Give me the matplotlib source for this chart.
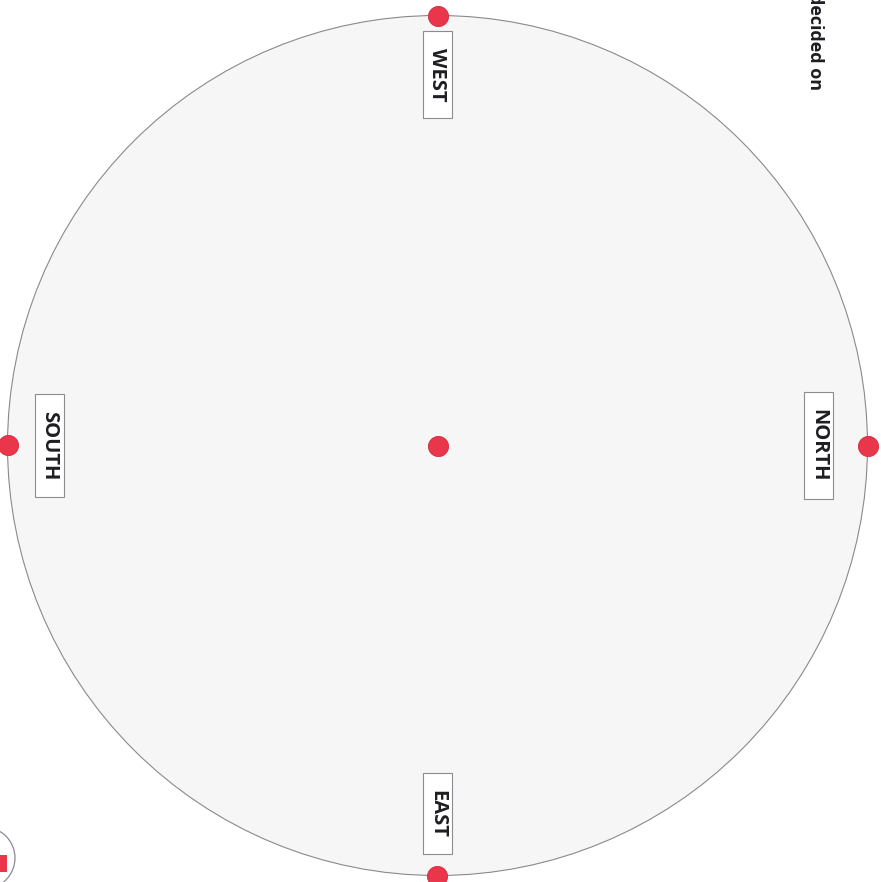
import numpy as np
import matplotlib.pyplot as plt
from matplotlib.patches import Circle, Rectangle

# compass labels and where they sit on the dial (degrees, 0 = right, counter-clockwise)
directions = ['WEST', 'NORTH', 'SOUTH', 'EAST']
angles = [90, 0, 180, 270]
corner_text = 'decided on'

RED = '#e9364b'
plt.rcParams['font.family'] = ['Open Sans', 'DejaVu Sans']

fig = plt.figure(figsize=(8.81, 8.82), dpi=100)
ax = fig.add_axes([0, 0, 1, 1])
ax.set_xlim(0, 881)
ax.set_ylim(882, 0)
ax.set_aspect('equal')
ax.axis('off')

cx, cy, r = 437.5, 445.5, 430

ax.add_patch(Circle((cx, cy), r, facecolor='#f6f6f7', edgecolor='#8a8a8e', lw=0.8, zorder=1))

# red dots on the rim and the centre
ax.plot([cx], [cy], 'o', ms=14.5, color=RED, mec='#d22a40', mew=0.6, zorder=4)
for a in angles:
    t = np.deg2rad(a)
    ax.plot(cx + r*np.cos(t), cy - r*np.sin(t), 'o', ms=14.5, color=RED,
            mec='#d22a40', mew=0.6, zorder=4, clip_on=False)

# how far in from the rim each label box sits
inset = {90: 59, 0: 49, 180: 42, 270: 62}

fig.canvas.draw()
inv = ax.transData.inverted()
for lab, a in zip(directions, angles):
    t = np.deg2rad(a)
    off = r - inset[a]
    tx, ty = cx + off*np.cos(t), cy - off*np.sin(t)
    txt = ax.text(tx, ty, lab, rotation=270, ha='center', va='center',
                  fontsize=14.5, fontweight='bold', color='#1e1e22', zorder=5)
    bb = txt.get_window_extent(renderer=fig.canvas.get_renderer())
    (x0, y0), (x1, y1) = inv.transform([[bb.x0, bb.y0], [bb.x1, bb.y1]])
    w = 29
    h = abs(y1 - y0) + 34
    ax.add_patch(Rectangle((tx - w/2, ty - h/2), w, h, facecolor='white',
                           edgecolor='#8c8c90', lw=0.8, zorder=3))

# text running off the top edge, as in the scan
ax.text(815, 90, corner_text, rotation=270, rotation_mode='anchor', ha='right', va='center',
        fontsize=13, fontweight='bold', color='#1e1e22')

# small stamp cut off in the lower left corner
ax.add_patch(Circle((-16, 858), 31, facecolor='white', edgecolor='#8a8a9a', lw=0.9, zorder=2))
ax.add_patch(Rectangle((-2, 855), 9, 17, facecolor=RED, edgecolor='none', zorder=3))

fig.savefig('out.png', dpi=100, facecolor='white')
